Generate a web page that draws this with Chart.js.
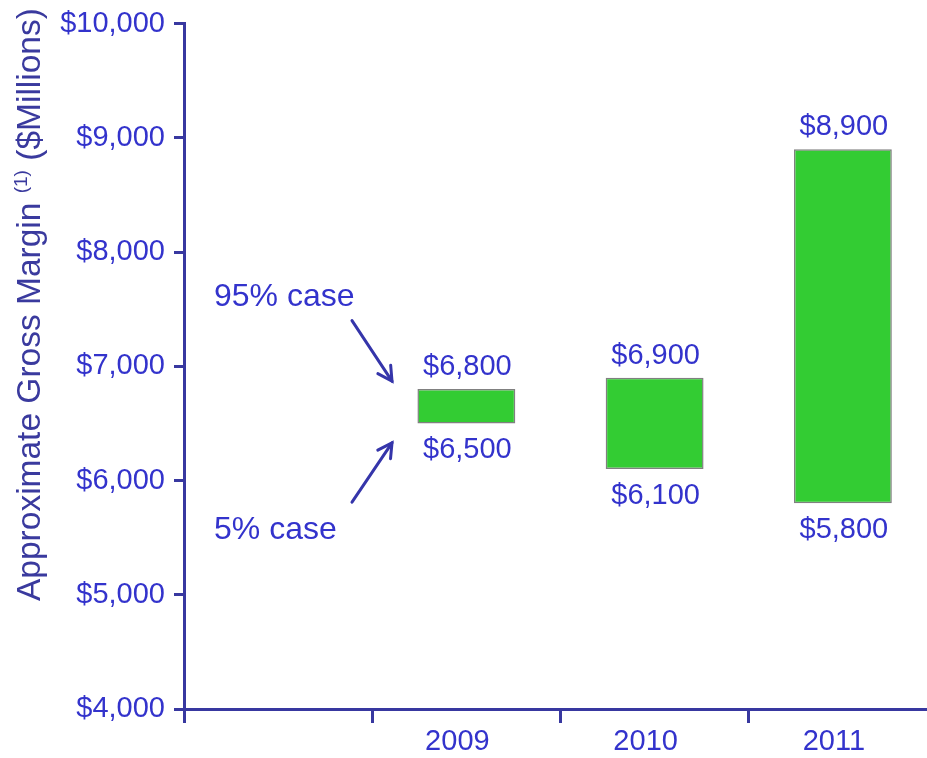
<!DOCTYPE html>
<html>
<head>
<meta charset="utf-8">
<script src="https://cdn.jsdelivr.net/npm/chart.js@4"></script>
<style>
  html, body { margin: 0; padding: 0; overflow: hidden; background: #ffffff; }
  canvas { display: block; }
</style>
</head>
<body>
<canvas id="c" width="937" height="758"></canvas>
<script>
// Categories along the bottom axis (the first slot is left empty)
const categories = ['', '2009', '2010', '2011'];
// Gross margin range per year, $ millions
const lowCase = [null, 6500, 6100, 5800];   // 5% case
const highCase = [null, 6800, 6900, 8900];  // 95% case
// Value axis ticks
const yTickValues = [4000, 5000, 6000, 7000, 8000, 9000, 10000];
// Axis title pieces: main text, footnote marker, unit
const axisTitle = ['Approximate Gross Margin', '(1)', '($Millions)'];
// Callouts explaining the two ends of a range
const calloutLabels = ['95% case', '5% case'];
const calloutTextAt = [7525, 5487];
const calloutArrowFrom = [7400, 5810];
const calloutArrowTo = [6870, 6330];

const TEXT = '#3333cc';
const AXIS = '#3838a0';
const TITLE = '#3a3a9e';
const FONT = '"Liberation Sans", Arial, Helvetica, sans-serif';

const fmt = v => '$' + Number(v).toLocaleString('en-US');

// Value labels above and below each floating bar
const rangeLabels = {
  id: 'rangeLabels',
  afterDatasetsDraw(chart) {
    const ctx = chart.ctx;
    const y = chart.scales.y;
    const meta = chart.getDatasetMeta(0);
    ctx.save();
    ctx.fillStyle = TEXT;
    ctx.font = '29px ' + FONT;
    ctx.textAlign = 'center';
    ctx.textBaseline = 'alphabetic';
    meta.data.forEach((bar, i) => {
      if (highCase[i] == null) return;
      ctx.fillText(fmt(highCase[i]), bar.x + 1, y.getPixelForValue(highCase[i]) - 14);
      ctx.fillText(fmt(lowCase[i]), bar.x + 1, y.getPixelForValue(lowCase[i]) + 35);
    });
    ctx.restore();
  }
};

// "95% case" / "5% case" callouts with arrows pointing at the first bar
const callouts = {
  id: 'callouts',
  afterDatasetsDraw(chart) {
    const ctx = chart.ctx;
    const y = chart.scales.y;
    const left = chart.chartArea.left;
    ctx.save();
    ctx.fillStyle = TEXT;
    ctx.font = '32px ' + FONT;
    ctx.textAlign = 'left';
    ctx.textBaseline = 'alphabetic';
    calloutLabels.forEach((t, i) => {
      ctx.fillText(t, left + 30, y.getPixelForValue(calloutTextAt[i]));
    });
    ctx.strokeStyle = '#3535aa';
    ctx.lineWidth = 3;
    ctx.lineCap = 'round';
    calloutLabels.forEach((t, i) => {
      const x0 = left + 168, y0 = y.getPixelForValue(calloutArrowFrom[i]);
      const x1 = left + 208, y1 = y.getPixelForValue(calloutArrowTo[i]);
      ctx.beginPath();
      ctx.moveTo(x0, y0);
      ctx.lineTo(x1, y1);
      ctx.stroke();
      const ang = Math.atan2(y1 - y0, x1 - x0);
      const len = 16, spread = 0.5;
      ctx.beginPath();
      ctx.moveTo(x1 - len * Math.cos(ang - spread), y1 - len * Math.sin(ang - spread));
      ctx.lineTo(x1, y1);
      ctx.lineTo(x1 - len * Math.cos(ang + spread), y1 - len * Math.sin(ang + spread));
      ctx.stroke();
    });
    ctx.restore();
  }
};

// Rotated value-axis title with a superscript footnote marker
const axisTitlePlugin = {
  id: 'axisTitle',
  afterDraw(chart) {
    const ctx = chart.ctx;
    ctx.save();
    ctx.translate(40, 601);
    ctx.rotate(-Math.PI / 2);
    ctx.fillStyle = TITLE;
    ctx.textAlign = 'left';
    ctx.textBaseline = 'alphabetic';
    let x = 0;
    ctx.font = '33.5px ' + FONT;
    ctx.fillText(axisTitle[0], x, 0);
    x += ctx.measureText(axisTitle[0] + ' ').width;
    ctx.font = '19px ' + FONT;
    ctx.fillText(axisTitle[1], x, -13);
    x += ctx.measureText(axisTitle[1]).width;
    ctx.font = '33.5px ' + FONT;
    x += ctx.measureText(' ').width;
    ctx.fillText(axisTitle[2], x, 0);
    ctx.restore();
  }
};

new Chart(document.getElementById('c'), {
  type: 'bar',
  data: {
    labels: categories,
    datasets: [{
      data: categories.map((_, i) => highCase[i] == null ? null : [lowCase[i], highCase[i]]),
      backgroundColor: '#33cc33',
      borderColor: '#808080',
      borderWidth: 1.5,
      borderSkipped: false,
      barPercentage: 0.52,
      categoryPercentage: 1
    }]
  },
  options: {
    responsive: false,
    animation: false,
    devicePixelRatio: 1,
    layout: { padding: { top: 23, left: 0, right: 0, bottom: 0 } },
    plugins: { legend: { display: false }, tooltip: { enabled: false } },
    scales: {
      x: {
        offset: true,
        grid: { offset: true, drawOnChartArea: false, drawTicks: true, tickLength: 14, color: AXIS, lineWidth: 3 },
        border: { color: AXIS, width: 3 },
        ticks: { color: TEXT, font: { family: FONT, size: 29, lineHeight: 1.2 }, padding: 2, maxRotation: 0, autoSkip: false, labelOffset: -9 },
        afterFit(s) { s.height = 49; }
      },
      y: {
        min: yTickValues[0],
        max: yTickValues[yTickValues.length - 1],
        afterBuildTicks(s) { s.ticks = yTickValues.map(v => ({ value: v })); },
        grid: { drawOnChartArea: false, drawTicks: true, tickLength: 10, color: AXIS, lineWidth: 3 },
        border: { color: AXIS, width: 3 },
        ticks: { color: TEXT, font: { family: FONT, size: 29, lineHeight: 1 }, padding: 9, callback: v => fmt(v) },
        afterFit(s) { s.width = 184; }
      }
    }
  },
  plugins: [rangeLabels, callouts, axisTitlePlugin]
});
</script>
</body>
</html>
